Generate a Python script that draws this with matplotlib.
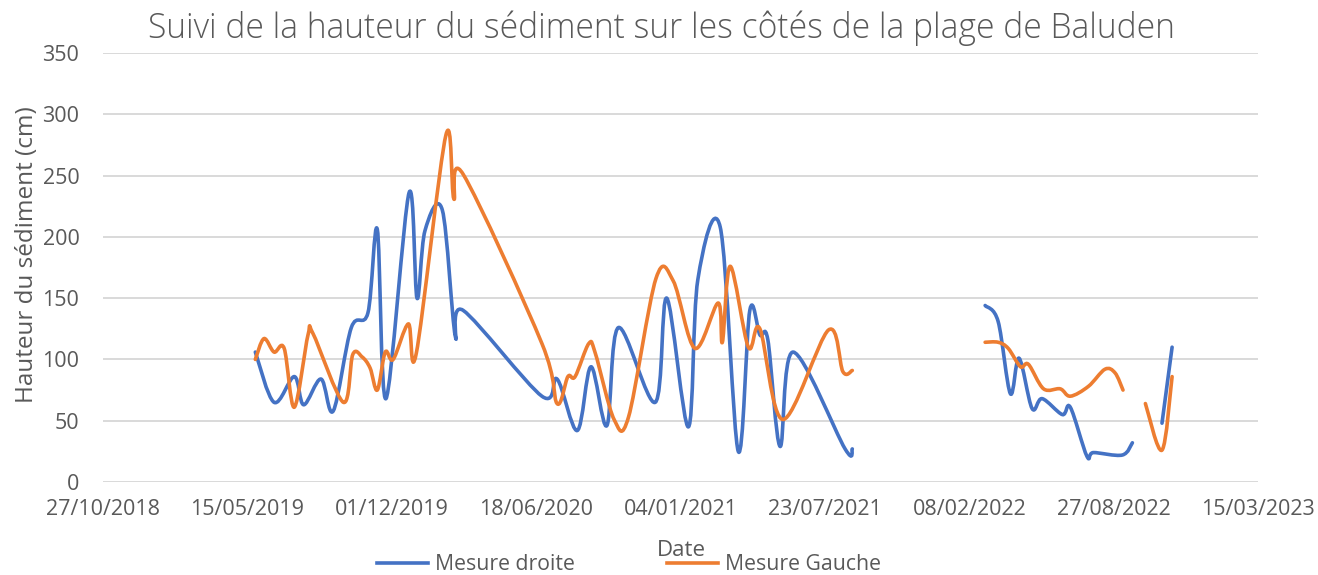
import numpy as np
import pandas as pd
import matplotlib
matplotlib.use("Agg")
import matplotlib.pyplot as plt
import matplotlib.dates as mdates
from matplotlib.path import Path
from matplotlib.patches import PathPatch
from matplotlib.lines import Line2D

plt.rcParams['font.family'] = ['Open Sans', 'DejaVu Sans']

# ---- data (Excel date serials, heights in cm; NaN = missing measurement) ----
serial_droite = [43611, 43637, 43665, 43678, 43702, 43719, 43744, 43767, 43780, 43792,
                 43824, 43835, 43846, 43870, 43888, 43899, 44008, 44029, 44057, 44076,
                 44098, 44114, 44165, 44181, 44211, 44224, 44255, 44280, 44296, 44310,
                 44321, 44338, 44356, 44428, 44438, 44530, 44622, 44640, 44657, 44669,
                 44687, 44701, 44729, 44740, 44763, 44772, 44812, 44826, 44844, 44867,
                 44881]
mesure_droite = [106, 65, 86, 63, 84, 58, 126, 138, 206, 68,
                 236, 150, 205, 222, 119, 140, 70, 84, 42, 94,
                 46, 126, 65, 150, 45, 165, 208, 25, 140, 120,
                 116, 29, 106, 27, 27, np.nan, 144, 131, 72, 101,
                 60, 68, 55, 61, 21, 24, 22, 32, np.nan, 48,
                 110]

serial_gauche = [43611, 43623, 43637, 43651, 43665, 43684, 43691, 43733, 43746, 43759,
                 43770, 43780, 43791, 43802, 43823, 43834, 43875, 43886, 43899, 44008,
                 44029, 44044, 44054, 44073, 44082, 44108, 44128, 44166, 44190, 44220,
                 44252, 44258, 44269, 44294, 44310, 44342, 44405, 44425, 44438, 44530,
                 44622, 44640, 44654, 44671, 44682, 44703, 44726, 44740, 44765, 44788,
                 44802, 44813, 44826, 44844, 44867, 44881]
mesure_gauche = [100, 117, 106, 109, 61, 120, 121, 65, 104, 102,
                 93, 75, 106, 100, 129, 105, 283, 231, 251, 113,
                 64, 86, 86, 113, 105, 51, 53, 166, 164, 109,
                 146, 114, 176, 110, 125, 51, 124, 90, 91, np.nan,
                 114, 114, 109, 94, 96, 76, 76, 70, 78, 92,
                 89, 75, np.nan, 64, 26, 86]

tick_serials = [43400, 43600, 43800, 44000, 44200, 44400, 44600, 44800, 45000]
tick_labels = ["27/10/2018", "15/05/2019", "01/12/2019", "18/06/2020", "04/01/2021",
               "23/07/2021", "08/02/2022", "27/08/2022", "15/03/2023"]
y_ticks = [0, 50, 100, 150, 200, 250, 300, 350]

series_names = ["Mesure droite", "Mesure Gauche"]
series_colors = ["#4472C4", "#ED7D31"]

title = "Suivi de la hauteur du sédiment sur les côtés de la plage de Baluden"


def to_num(serials):
    d = pd.to_datetime(np.asarray(serials, dtype=float), unit='D', origin='1899-12-30')
    return mdates.date2num(d.to_pydatetime())


def smooth_path(xs, ys):
    """Excel-like smoothed line: cubic Bezier through each point (Catmull-Rom tangents)."""
    verts, codes = [], []
    runs, cur = [], []
    for x, y in zip(xs, ys):
        if np.isnan(y):
            if cur:
                runs.append(cur)
            cur = []
        else:
            cur.append((x, y))
    if cur:
        runs.append(cur)
    for run in runs:
        P = np.array(run, dtype=float)
        n = len(P)
        if n < 2:
            continue
        verts.append(P[0]); codes.append(Path.MOVETO)
        for i in range(n - 1):
            p0 = P[i - 1] if i > 0 else P[i]
            p1, p2 = P[i], P[i + 1]
            p3 = P[i + 2] if i + 2 < n else P[i + 1]
            c1 = p1 + (p2 - p0) / 6.0
            c2 = p2 - (p3 - p1) / 6.0
            verts += [c1, c2, p2]
            codes += [Path.CURVE4] * 3
    return Path(verts, codes)


fig = plt.figure(figsize=(13.18, 5.75), dpi=100)
ax = fig.add_axes([103 / 1318, 1 - 482 / 575, (1258 - 103) / 1318, (482 - 53) / 575])

text_color = "#595959"
grid_color = "#D9D9D9"

for yt in y_ticks:
    ax.axhline(yt, color=grid_color, lw=1.4, zorder=0)

for serials, vals, col in [(serial_droite, mesure_droite, series_colors[0]),
                           (serial_gauche, mesure_gauche, series_colors[1])]:
    path = smooth_path(to_num(serials), np.asarray(vals, dtype=float))
    patch = PathPatch(path, facecolor='none', edgecolor=col, lw=2.6,
                      capstyle='round', joinstyle='round', zorder=3)
    ax.add_patch(patch)

ax.set_xlim(to_num([tick_serials[0]])[0], to_num([tick_serials[-1]])[0])
ax.set_ylim(0, 350)
ax.set_xticks(to_num(tick_serials))
ax.set_xticklabels(tick_labels)
ax.set_yticks(y_ticks)
ax.tick_params(axis='both', length=0, labelsize=15.5, labelcolor=text_color)
ax.tick_params(axis='x', pad=12)
ax.tick_params(axis='y', pad=17)
for s in ax.spines.values():
    s.set_visible(False)

fig.text(661 / 1318, 1 - 28 / 575, title, ha='center', va='center',
         fontsize=24.2, color=text_color, fontweight='light')
fig.text(681 / 1318, 1 - 551 / 575, "Date", ha='center', va='center',
         fontsize=16, color=text_color)
fig.text(27 / 1318, 1 - 255 / 575, "Hauteur du sédiment (cm)", ha='center', va='center',
         rotation=90, fontsize=17.5, color=text_color)

handles = [Line2D([], [], color=c, lw=2.6) for c in series_colors]
leg = fig.legend(handles, series_names, loc='center', bbox_to_anchor=(629 / 1318, 1 - 565 / 575),
                 ncol=2, frameon=False, fontsize=15.3, handlelength=2.4, handletextpad=0.35,
                 columnspacing=4.3, borderaxespad=0, borderpad=0)
for t in leg.get_texts():
    t.set_color(text_color)

fig.savefig("out.png", dpi=100)
